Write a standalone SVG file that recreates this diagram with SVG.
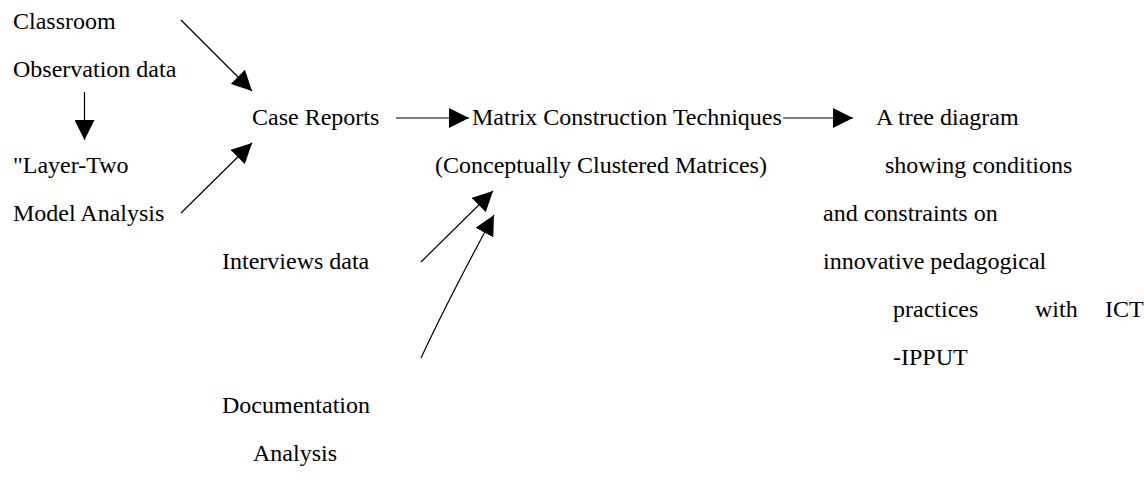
<svg xmlns="http://www.w3.org/2000/svg" width="1144" height="494" viewBox="0 0 1144 494">
<style>
text{font-family:"Liberation Serif","Times New Roman",serif;font-size:24px;fill:#000}
.c{stroke:#000;stroke-width:1.2;fill:none;marker-end:url(#ah)}
</style>
<defs>
<marker id="ah" viewBox="0 0 20 20" refX="20" refY="10" markerWidth="20" markerHeight="20" markerUnits="userSpaceOnUse" orient="auto">
<path d="M0,0 L20,10 L0,20 z" fill="#000"/>
</marker>
</defs>
<rect width="1144" height="494" fill="#fff"/>
<g id="connectors">
<line class="c" x1="181" y1="20" x2="252" y2="91"/>
<line class="c" x1="84.5" y1="92" x2="84.5" y2="140"/>
<line class="c" x1="181" y1="213" x2="252" y2="143"/>
<line class="c" x1="396" y1="118" x2="469" y2="118"/>
<line class="c" x1="783" y1="118" x2="853" y2="118"/>
<line class="c" x1="421" y1="262" x2="493" y2="191"/>
<path class="c" d="M421,358 Q449,298 494,215"/>
</g>
<g id="classroom"><text x="13" y="29">Classroom</text><text x="13" y="77">Observation data</text></g>
<g id="layer-two"><text x="13" y="173">"Layer-Two</text><text x="13" y="221">Model Analysis</text></g>
<g id="case-reports"><text x="252" y="125">Case Reports</text></g>
<g id="matrix"><text x="472" y="125">Matrix Construction Techniques</text><text x="435" y="173">(Conceptually Clustered Matrices)</text></g>
<g id="tree"><text x="876" y="125">A tree diagram</text><text x="885" y="173">showing conditions</text><text x="823" y="221">and constraints on</text><text x="823" y="269">innovative pedagogical</text><text x="893" y="317">practices</text><text x="1035" y="317">with</text><text x="1105" y="317">ICT</text><text x="893" y="365">-IPPUT</text></g>
<g id="interviews"><text x="222" y="269">Interviews data</text></g>
<g id="documentation"><text x="222" y="413">Documentation</text><text x="253" y="461">Analysis</text></g>
</svg>
